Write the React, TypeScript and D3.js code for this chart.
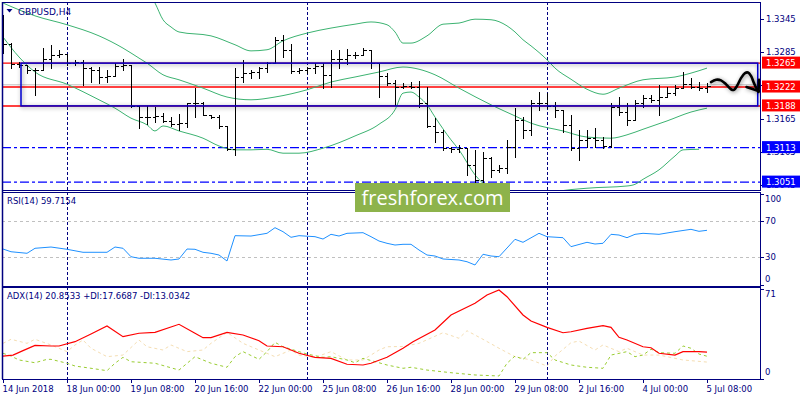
import * as d3 from 'd3';

const W = 800;
const H = 400;
const FONT = 'DejaVu Sans, Verdana, sans-serif';
const NAVY = '#000080';

// GBPUSD H4, one bar per index (0 = 14 Jun 16:00 ... 88 = 5 Jul 08:00)
const opens = [
  1.3346, 1.3299, 1.3263, 1.3262, 1.3253, 1.3253, 1.3272, 1.3280, 1.3281, 1.3265,
  1.3267, 1.3256, 1.3253, 1.3240, 1.3242, 1.3260, 1.3262, 1.3188, 1.3168, 1.3168,
  1.3170, 1.3161, 1.3155, 1.3157, 1.3193, 1.3193, 1.3172, 1.3168, 1.3152, 1.3110,
  1.3240, 1.3247, 1.3249, 1.3256, 1.3265, 1.3307, 1.3289, 1.3251, 1.3253, 1.3256,
  1.3260, 1.3244, 1.3272, 1.3272, 1.3280, 1.3280, 1.3289, 1.3265, 1.3242, 1.3229,
  1.3222, 1.3224, 1.3222, 1.3193, 1.3152, 1.3141, 1.3112, 1.3110, 1.3112, 1.3082,
  1.3055, 1.3094, 1.3073, 1.3076, 1.3114, 1.3163, 1.3145, 1.3193, 1.3193, 1.3188,
  1.3181, 1.3154, 1.3112, 1.3127, 1.3130, 1.3127, 1.3116, 1.3186, 1.3177, 1.3163,
  1.3193, 1.3202, 1.3199, 1.3204, 1.3211, 1.3220, 1.3227, 1.3222, 1.3220,
];
const highs = [
  1.3352, 1.3301, 1.3267, 1.3262, 1.3256, 1.3292, 1.3298, 1.3289, 1.3281, 1.3271,
  1.3271, 1.3258, 1.3258, 1.3253, 1.3265, 1.3272, 1.3262, 1.3188, 1.3188, 1.3186,
  1.3175, 1.3168, 1.3174, 1.3193, 1.3220, 1.3195, 1.3172, 1.3172, 1.3152, 1.3256,
  1.3271, 1.3253, 1.3258, 1.3267, 1.3312, 1.3316, 1.3299, 1.3256, 1.3258, 1.3265,
  1.3265, 1.3289, 1.3289, 1.3290, 1.3285, 1.3292, 1.3289, 1.3265, 1.3247, 1.3235,
  1.3229, 1.3231, 1.3233, 1.3222, 1.3166, 1.3145, 1.3114, 1.3118, 1.3112, 1.3109,
  1.3105, 1.3096, 1.3082, 1.3127, 1.3184, 1.3168, 1.3199, 1.3213, 1.3211, 1.3195,
  1.3181, 1.3172, 1.3145, 1.3145, 1.3148, 1.3132, 1.3193, 1.3204, 1.3193, 1.3199,
  1.3208, 1.3208, 1.3226, 1.3222, 1.3226, 1.3249, 1.3238, 1.3231, 1.3229,
];
const lows = [
  1.3283, 1.3256, 1.3258, 1.3247, 1.3208, 1.3253, 1.3256, 1.3276, 1.3262, 1.3262,
  1.3226, 1.3231, 1.3229, 1.3231, 1.3242, 1.3253, 1.3186, 1.3148, 1.3155, 1.3159,
  1.3159, 1.3152, 1.3145, 1.3150, 1.3168, 1.3172, 1.3166, 1.3148, 1.3109, 1.3100,
  1.3231, 1.3238, 1.3238, 1.3249, 1.3265, 1.3276, 1.3247, 1.3247, 1.3247, 1.3247,
  1.3220, 1.3222, 1.3256, 1.3263, 1.3274, 1.3280, 1.3256, 1.3204, 1.3226, 1.3190,
  1.3220, 1.3220, 1.3186, 1.3150, 1.3123, 1.3109, 1.3105, 1.3105, 1.3064, 1.3049,
  1.3049, 1.3060, 1.3069, 1.3067, 1.3096, 1.3130, 1.3136, 1.3181, 1.3184, 1.3168,
  1.3141, 1.3109, 1.3091, 1.3114, 1.3114, 1.3112, 1.3114, 1.3172, 1.3154, 1.3163,
  1.3186, 1.3195, 1.3172, 1.3204, 1.3208, 1.3220, 1.3220, 1.3217, 1.3213,
];
const closes = [
  1.3299, 1.3263, 1.3262, 1.3253, 1.3253, 1.3272, 1.3280, 1.3281, 1.3265, 1.3267,
  1.3256, 1.3253, 1.3240, 1.3242, 1.3260, 1.3262, 1.3188, 1.3168, 1.3168, 1.3170,
  1.3161, 1.3155, 1.3157, 1.3193, 1.3193, 1.3172, 1.3168, 1.3152, 1.3110, 1.3240,
  1.3247, 1.3249, 1.3256, 1.3265, 1.3307, 1.3289, 1.3251, 1.3253, 1.3256, 1.3260,
  1.3244, 1.3272, 1.3272, 1.3280, 1.3280, 1.3289, 1.3265, 1.3242, 1.3229, 1.3222,
  1.3224, 1.3222, 1.3193, 1.3152, 1.3141, 1.3112, 1.3110, 1.3112, 1.3082, 1.3055,
  1.3094, 1.3073, 1.3076, 1.3114, 1.3163, 1.3145, 1.3193, 1.3193, 1.3188, 1.3181,
  1.3154, 1.3112, 1.3127, 1.3130, 1.3127, 1.3116, 1.3186, 1.3177, 1.3163, 1.3193,
  1.3202, 1.3199, 1.3204, 1.3211, 1.3220, 1.3227, 1.3222, 1.3220, 1.3224,
];

// Bollinger bands, read as [bar, price]
const bbUpper: [number, number][] = [
  [18, 1.3397], [19, 1.3373], [20, 1.3343], [21, 1.3330], [22, 1.3321], [26, 1.3314],
  [29, 1.3298], [31, 1.3287], [33, 1.3289], [35, 1.3305], [38, 1.3319], [41, 1.3328],
  [44, 1.3335], [46, 1.3339], [48, 1.3334], [49, 1.3321], [50, 1.3301], [51, 1.3301],
  [53, 1.3314], [55, 1.3335], [57, 1.3337], [59, 1.3344], [61, 1.3343], [63, 1.3332],
  [64, 1.3321], [65, 1.3307], [66, 1.3296], [68, 1.3271], [69, 1.3256], [71, 1.3236],
  [73, 1.3218], [75, 1.3209], [77, 1.3220], [80, 1.3235], [84, 1.3240], [86, 1.3247],
  [88, 1.3256],
];
const bbMiddle: [number, number][] = [
  [0, 1.3373], [4, 1.3350], [8, 1.3334], [12, 1.3314], [15, 1.3292], [17, 1.3274],
  [18, 1.3265], [20, 1.3244], [22, 1.3235], [25, 1.3220], [28, 1.3204], [31, 1.3199],
  [34, 1.3204], [38, 1.3217], [41, 1.3231], [44, 1.3240], [47, 1.3249], [50, 1.3258],
  [52, 1.3254], [54, 1.3244], [57, 1.3220], [61, 1.3190], [64, 1.3170], [66, 1.3157],
  [70, 1.3143], [73, 1.3132], [76, 1.3130], [78, 1.3136], [80, 1.3146], [83, 1.3161],
  [86, 1.3177], [88, 1.3184],
];
const bbLower: [number, number][] = [
  [0, 1.3312], [2, 1.3276], [4, 1.3249], [8, 1.3227], [12, 1.3199], [14, 1.3184],
  [16, 1.3166], [18, 1.3154], [19, 1.3143], [20, 1.3152], [22, 1.3143], [25, 1.3130],
  [27, 1.3116], [29, 1.3109], [31, 1.3109], [33, 1.3110], [35, 1.3103], [37, 1.3103],
  [40, 1.3112], [44, 1.3134], [47, 1.3155], [49, 1.3181], [50, 1.3211], [51, 1.3213],
  [52, 1.3204], [53, 1.3190], [54, 1.3168], [56, 1.3127], [57, 1.3109], [59, 1.3064],
  [61, 1.3037], [63, 1.3022], [66, 1.3019], [69, 1.3033], [73, 1.3040], [78, 1.3044],
  [79, 1.3047], [80, 1.3056], [82, 1.3073], [84, 1.3098], [85, 1.3109], [87, 1.3110],
];

// RSI(14)
const rsi: [number, number][] = [
  [0, 39.1], [1, 36.1], [3, 34.4], [4, 39.9], [6, 41.3], [8, 38.8], [10, 35.5], [13, 35.5],
  [14, 41.3], [15, 39.9], [16, 30.6], [17, 28.9], [19, 28.9], [21, 27.0], [22, 28.1],
  [23, 39.1], [24, 38.8], [25, 35.5], [26, 34.4], [27, 32.5], [28, 25.9], [29, 53.8],
  [31, 53.4], [33, 56.4], [34, 62.6], [35, 58.2], [36, 52.0], [37, 53.8], [39, 52.7],
  [40, 50.1], [41, 55.3], [42, 53.4], [43, 56.4], [45, 57.1], [46, 52.7], [47, 47.9],
  [48, 45.4], [49, 43.5], [50, 44.3], [51, 44.3], [52, 38.0], [53, 32.5], [54, 31.4],
  [55, 28.1], [57, 27.0], [58, 25.1], [59, 21.5], [60, 33.3], [61, 31.4], [62, 30.6],
  [64, 49.8], [65, 46.5], [67, 56.4], [68, 52.7], [70, 51.6], [71, 41.7], [73, 46.5],
  [74, 44.6], [75, 45.4], [76, 55.3], [77, 54.5], [78, 51.6], [79, 55.3], [80, 56.4],
  [82, 55.3], [84, 58.2], [86, 60.8], [87, 58.6], [88, 59.7154],
];

// ADX(14), +DI, -DI
const adx: [number, number][] = [
  [0, 17.8], [1.25, 18.6], [2.5, 22.1], [4, 26.3], [6, 25.8], [7, 25.8], [9, 29.2],
  [11, 35.3], [13, 41.6], [15, 33.2], [17, 35.9], [19, 36.6], [22, 43.0], [24, 35.9],
  [25, 32.4], [26, 32.4], [28, 36.6], [30, 34.5], [32, 30.0], [33, 25.8], [35, 25.2],
  [37, 20.0], [39, 16.8], [41, 16.0], [43, 11.3], [45, 10.7], [46, 12.1], [48, 16.8],
  [50, 24.0], [51.25, 29.2], [54, 38.5], [56, 50.4], [59, 59.7], [60.5, 66.2], [62, 70.2],
  [63, 64.9], [65, 50.4], [66, 45.6], [68, 40.6], [70, 36.3], [71, 37.1], [73, 39.8],
  [75, 41.9], [76, 40.6], [77, 32.7], [78, 30.5], [80, 25.2], [81, 24.4], [82, 20.0],
  [84, 18.6], [85, 21.3], [87, 21.3], [88, 20.8533],
];
const plusDI: [number, number][] = [
  [0, 20.0], [1, 17.8], [2, 14.7], [4, 12.5], [5.5, 15.2], [6, 15.2], [8, 12.1], [9, 9.9],
  [11, 8.1], [13, 6.2], [14, 12.1], [15, 16.8], [16, 13.3], [19, 12.1], [22, 6.7],
  [24, 17.3], [26, 12.1], [28, 8.9], [29, 17.3], [30, 21.3], [32, 15.2], [33, 21.3],
  [34, 28.7], [35, 25.2], [37, 21.3], [38, 19.4], [40, 16.8], [41, 17.3], [43, 14.7],
  [44, 12.5], [45, 16.0], [47, 12.5], [48, 10.7], [50, 8.1], [51, 8.9], [53, 6.7],
  [56, 4.6], [59, 2.8], [62, 2.0], [63, 12.1], [64, 17.8], [65, 15.2], [66, 20.5],
  [68, 20.5], [69, 14.7], [71, 10.7], [73, 8.9], [75, 8.1], [76, 18.6], [78, 21.3],
  [79, 17.3], [80, 18.6], [81, 23.2], [82, 20.5], [84, 20.0], [85, 25.8], [86, 24.0],
  [87, 19.4], [88, 17.6687],
];
const minusDI: [number, number][] = [
  [0, 27.9], [1, 31.1], [3, 27.9], [4, 31.1], [6, 26.6], [8, 21.3], [9, 26.6], [10, 30.5],
  [11, 24.0], [13, 17.3], [15, 18.6], [17, 30.5], [18, 25.2], [20, 22.6], [21, 26.6],
  [23, 21.3], [25, 22.6], [26, 27.9], [28, 36.6], [30, 27.9], [32, 22.6], [34, 17.3],
  [36, 22.6], [37, 18.6], [39, 16.8], [41, 21.3], [43, 14.7], [45, 14.7], [46, 18.6],
  [47, 22.6], [48, 25.2], [50, 25.4], [52, 27.9], [55, 36.3], [57, 31.9], [58, 37.9],
  [60, 31.1], [62, 24.0], [64, 17.3], [66, 14.7], [68, 9.9], [69, 17.8], [71, 28.4],
  [72, 29.7], [74, 22.6], [75, 26.6], [77, 21.3], [78, 24.0], [80, 18.6], [82, 18.6],
  [85, 14.7], [88, 13.0342],
];

const timeLabels = [
  '14 Jun 2018', '18 Jun 00:00', '19 Jun 08:00', '20 Jun 16:00', '22 Jun 00:00',
  '25 Jun 08:00', '26 Jun 16:00', '28 Jun 00:00', '29 Jun 08:00', '2 Jul 16:00',
  '4 Jul 00:00', '5 Jul 08:00',
];
const timeLabelBars = [0, 8, 16, 24, 32, 40, 48, 56, 64, 72, 80, 88];
const weekStartBars = [8, 38, 68];

const priceTicks = [1.3345, 1.3285, 1.3225, 1.3165, 1.3105, 1.3045];
const redLevels = [1.3265, 1.3222, 1.3188];
const blueLevels = [1.3113, 1.3051];
const askLevel = 1.3226;
const zoneBars = [2.25, 94.34];
const zonePrices = [1.3265, 1.3188];
const rsiLevels = [70, 30];
const rsiTicks = [100, 70, 30, 0];
const adxTicks = [71, 0];

// hand-drawn forecast arrow, [bar, price]
const arrowLine: [number, number][] = [
  [88.5, 1.3231], [89.125, 1.3235], [89.75, 1.3234], [90.375, 1.3227], [91.0, 1.3218],
  [91.375, 1.3217], [91.75, 1.3224], [92.25, 1.3238], [92.75, 1.3247], [93.125, 1.3248],
  [93.5, 1.3242], [93.875, 1.3229], [94.25, 1.3218], [94.44, 1.3215],
];
const arrowHeadA: [number, number][] = [[92.94, 1.3222], [94.44, 1.3215]];
const arrowHeadB: [number, number][] = [[94.5, 1.3235], [94.44, 1.3213]];

const PL = 2;
const PR = 760;
const MAIN = { top: 2, bottom: 190 };
const RSIP = { top: 192, bottom: 285.5 };
const ADXP = { top: 287, bottom: 379 };

export default function App() {
  const x = d3.scaleLinear().domain([0, 88]).range([3, 707]);
  const yMain = d3.scaleLinear().domain([1.30368, 1.33731]).range([190, 3]);
  const yRsi = d3.scaleLinear().domain([0, 100]).range([284.5, 193.75]);
  const yAdx = d3.scaleLinear().domain([0, 71]).range([378.5, 289]);

  const bandLine = d3.line<[number, number]>()
    .x((d) => x(d[0]))
    .y((d) => yMain(d[1]))
    .curve(d3.curveMonotoneX);
  const rsiLine = d3.line<[number, number]>().x((d) => x(d[0])).y((d) => yRsi(d[1]));
  const adxLine = d3.line<[number, number]>().x((d) => x(d[0])).y((d) => yAdx(d[1]));
  const arrowPath = d3.line<[number, number]>()
    .x((d) => x(d[0]))
    .y((d) => yMain(d[1]))
    .curve(d3.curveCatmullRom);

  const crisp = (v: number) => Math.round(v) + 0.5;
  const panels = [MAIN, RSIP, ADXP];

  const clampLabel = (y: number, p: { top: number; bottom: number }) =>
    Math.min(Math.max(y, p.top + 7), p.bottom - 7);

  return (
    <svg
      width={W}
      height={H}
      style={{ position: 'absolute', left: 0, top: 0, background: '#fff' }}
      fontFamily={FONT}
    >
      <defs>
        <clipPath id="clip-main">
          <rect x={PL} y={MAIN.top} width={PR - PL} height={MAIN.bottom - MAIN.top} />
        </clipPath>
        <clipPath id="clip-rsi">
          <rect x={PL} y={RSIP.top} width={PR - PL} height={RSIP.bottom - RSIP.top} />
        </clipPath>
        <clipPath id="clip-adx">
          <rect x={PL} y={ADXP.top} width={PR - PL} height={ADXP.bottom - ADXP.top} />
        </clipPath>
        <filter id="soft-shadow" x="-10%" y="-40%" width="120%" height="180%">
          <feDropShadow dx="1" dy="1" stdDeviation="2.2" floodColor="#000" floodOpacity="0.45" />
        </filter>
      </defs>

      <rect width={W} height={H} fill="#fff" />

      {/* week separators */}
      {panels.map((p, k) =>
        weekStartBars.map((b) => (
          <line
            key={`sep-${k}-${b}`}
            x1={crisp(x(b))}
            x2={crisp(x(b))}
            y1={p.top}
            y2={p.bottom}
            stroke={NAVY}
            strokeDasharray="3,2"
            shapeRendering="crispEdges"
          />
        ))
      )}

      {/* main panel */}
      <g clipPath="url(#clip-main)">
        <line x1={PL} x2={PR} y1={yMain(askLevel)} y2={yMain(askLevel)} stroke="#c0c0c0" />
        {blueLevels.map((p) => (
          <line
            key={`bl-${p}`}
            x1={PL}
            x2={PR}
            y1={yMain(p)}
            y2={yMain(p)}
            stroke="#0000ff"
            strokeWidth={1.3}
            strokeDasharray="9,3,3,3"
          />
        ))}
        {redLevels.map((p) => (
          <line
            key={`rl-${p}`}
            x1={PL}
            x2={PR}
            y1={yMain(p)}
            y2={yMain(p)}
            stroke="#ff0000"
            strokeWidth={1.4}
          />
        ))}

        {[bbUpper, bbMiddle, bbLower].map((band, k) => (
          <path key={`bb-${k}`} d={bandLine(band) ?? ''} fill="none" stroke="#3cb371" strokeWidth={1} />
        ))}

        {closes.map((c, i) => {
          const cx = crisp(x(i));
          return (
            <g key={`bar-${i}`} stroke="#000" strokeWidth={1} shapeRendering="crispEdges">
              <line x1={cx} x2={cx} y1={Math.round(yMain(highs[i]))} y2={Math.round(yMain(lows[i])) + 1} />
              <line x1={cx - 3} x2={cx} y1={crisp(yMain(opens[i]))} y2={crisp(yMain(opens[i]))} />
              <line x1={cx} x2={cx + 3.5} y1={crisp(yMain(c))} y2={crisp(yMain(c))} />
            </g>
          );
        })}

        <rect
          x={x(zoneBars[0])}
          y={yMain(zonePrices[0])}
          width={x(zoneBars[1]) - x(zoneBars[0])}
          height={yMain(zonePrices[1]) - yMain(zonePrices[0])}
          fill="none"
          stroke="#0000cd"
          strokeWidth={1.5}
          filter="url(#soft-shadow)"
        />

        <g filter="url(#soft-shadow)" fill="none" stroke="#000" strokeWidth={2.6} strokeLinecap="round" strokeLinejoin="round">
          <path d={arrowPath(arrowLine) ?? ''} />
          <path d={arrowPath(arrowHeadA) ?? ''} />
          <path d={arrowPath(arrowHeadB) ?? ''} />
        </g>
      </g>

      {/* RSI panel */}
      <g clipPath="url(#clip-rsi)">
        {rsiLevels.map((v) => (
          <line
            key={`rsil-${v}`}
            x1={PL}
            x2={PR}
            y1={crisp(yRsi(v))}
            y2={crisp(yRsi(v))}
            stroke="#c0c0c0"
            strokeDasharray="3,3"
            shapeRendering="crispEdges"
          />
        ))}
        <path d={rsiLine(rsi) ?? ''} fill="none" stroke="#1e90ff" strokeWidth={1} />
      </g>

      {/* ADX panel */}
      <g clipPath="url(#clip-adx)">
        <path d={adxLine(minusDI) ?? ''} fill="none" stroke="#f5deb3" strokeWidth={1} strokeDasharray="3,3" />
        <path d={adxLine(plusDI) ?? ''} fill="none" stroke="#9acd32" strokeWidth={1} strokeDasharray="3,3" />
        <path d={adxLine(adx) ?? ''} fill="none" stroke="#ff0000" strokeWidth={1.2} />
      </g>

      {/* panel borders */}
      {panels.map((p, k) => (
        <rect
          key={`frame-${k}`}
          x={PL + 0.5}
          y={p.top + 0.5}
          width={PR - PL}
          height={p.bottom - p.top}
          fill="none"
          stroke={NAVY}
          strokeWidth={1}
          shapeRendering="crispEdges"
        />
      ))}
      <line x1={PL + 0.5} x2={PL + 0.5} y1={MAIN.top} y2={ADXP.bottom} stroke={NAVY} strokeWidth={1.5} />

      {/* price axis */}
      <g fontSize={8.5} fill={NAVY}>
        {priceTicks.map((p) => (
          <g key={`pt-${p}`}>
            <line x1={PR} x2={PR + 4} y1={crisp(yMain(p))} y2={crisp(yMain(p))} stroke={NAVY} shapeRendering="crispEdges" />
            <text x={766} y={yMain(p) + 3}>{p.toFixed(4)}</text>
          </g>
        ))}
        {redLevels.map((p) => (
          <g key={`rb-${p}`}>
            <rect x={762} y={yMain(p) - 6.5} width={40} height={12} fill="#ff0000" />
            <text x={766} y={yMain(p) + 3} fill="#fff">{p.toFixed(4)}</text>
          </g>
        ))}
        {blueLevels.map((p) => (
          <g key={`bb-${p}`}>
            <rect x={762} y={yMain(p) - 6.5} width={40} height={12} fill="#0000ff" />
            <text x={766} y={yMain(p) + 3} fill="#fff">{p.toFixed(4)}</text>
          </g>
        ))}

        {rsiTicks.map((v) => (
          <g key={`rt-${v}`}>
            <line x1={PR} x2={PR + 4} y1={crisp(yRsi(v))} y2={crisp(yRsi(v))} stroke={NAVY} shapeRendering="crispEdges" />
            <text x={765} y={clampLabel(yRsi(v), RSIP) + 3}>{v}</text>
          </g>
        ))}
        {adxTicks.map((v) => (
          <g key={`at-${v}`}>
            <line x1={PR} x2={PR + 4} y1={crisp(yAdx(v))} y2={crisp(yAdx(v))} stroke={NAVY} shapeRendering="crispEdges" />
            <text x={765} y={clampLabel(yAdx(v), ADXP) + 3}>{v}</text>
          </g>
        ))}

        {/* time axis */}
        {timeLabels.map((t, k) => (
          <g key={`tl-${t}`}>
            <line
              x1={crisp(x(timeLabelBars[k]))}
              x2={crisp(x(timeLabelBars[k]))}
              y1={ADXP.bottom}
              y2={ADXP.bottom + 4}
              stroke={NAVY}
              shapeRendering="crispEdges"
            />
            <text x={x(timeLabelBars[k]) - 0.5} y={392}>{t}</text>
          </g>
        ))}
      </g>

      {/* panel captions */}
      <path d="M6.5,9 L12.5,9 L9.5,12.5 Z" fill={NAVY} />
      <text x={18} y={14.5} fontSize={9} fill={NAVY}>GBPUSD,H4</text>
      <text x={7} y={204} fontSize={8.5} fill={NAVY}>RSI(14) 59.7154</text>
      <text x={7} y={299} fontSize={8.5} fill={NAVY}>ADX(14) 20.8533 +DI:17.6687 -DI:13.0342</text>

      {/* watermark */}
      <rect x={355} y={183} width={155} height={29} fill="#8db34b" />
      <text x={432.5} y={205} textAnchor="middle" fontFamily="Open Sans, sans-serif" fontSize={20} fill="#fff">
        freshforex.com
      </text>
    </svg>
  );
}
